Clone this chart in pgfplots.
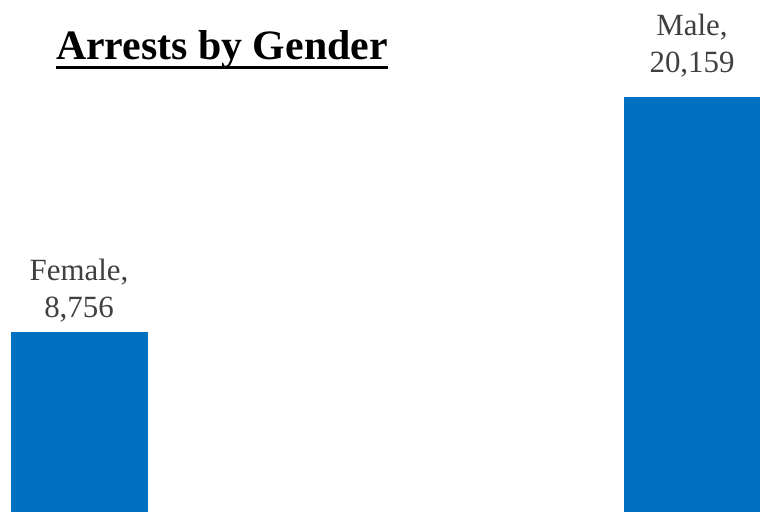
\documentclass[border=0pt]{standalone}
\usepackage{fontspec}
\setmainfont{Liberation Serif}
\usepackage{pgfplots}
\pgfplotsset{compat=1.18}
\definecolor{barblue}{HTML}{0070C0}
\definecolor{labgray}{HTML}{404040}
\begin{document}
\begin{tikzpicture}
\begin{axis}[
  scale only axis,
  width=760bp, height=512bp,
  axis lines=none,
  xmin=-0.1289, xmax=1.1109,
  ymin=0, ymax=24871,
  ybar, bar width=137bp, bar shift=0pt,
  nodes near coords style={font=\fontsize{31}{37}\selectfont, text=labgray, align=center, anchor=south},
  clip=false,
]
\addplot[fill=barblue, draw=none, nodes near coords={Female,\\8,756}, nodes near coords style={yshift=6bp}] coordinates {(0,8756)};
\addplot[fill=barblue, draw=none, nodes near coords={Male,\\20,159}, nodes near coords style={yshift=16bp}] coordinates {(1,20159)};
\node[font=\bfseries\fontsize{42}{50}\selectfont, anchor=base, inner sep=0pt] (title) at (rel axis cs:0.292,0.883) {Arrests by Gender};
\draw[line width=3bp] ([yshift=-8bp]title.base west) -- ([yshift=-8bp]title.base east);
\end{axis}
\pgfresetboundingbox
\path[use as bounding box] (current axis.south west) rectangle (current axis.north east);
\end{tikzpicture}
\end{document}
